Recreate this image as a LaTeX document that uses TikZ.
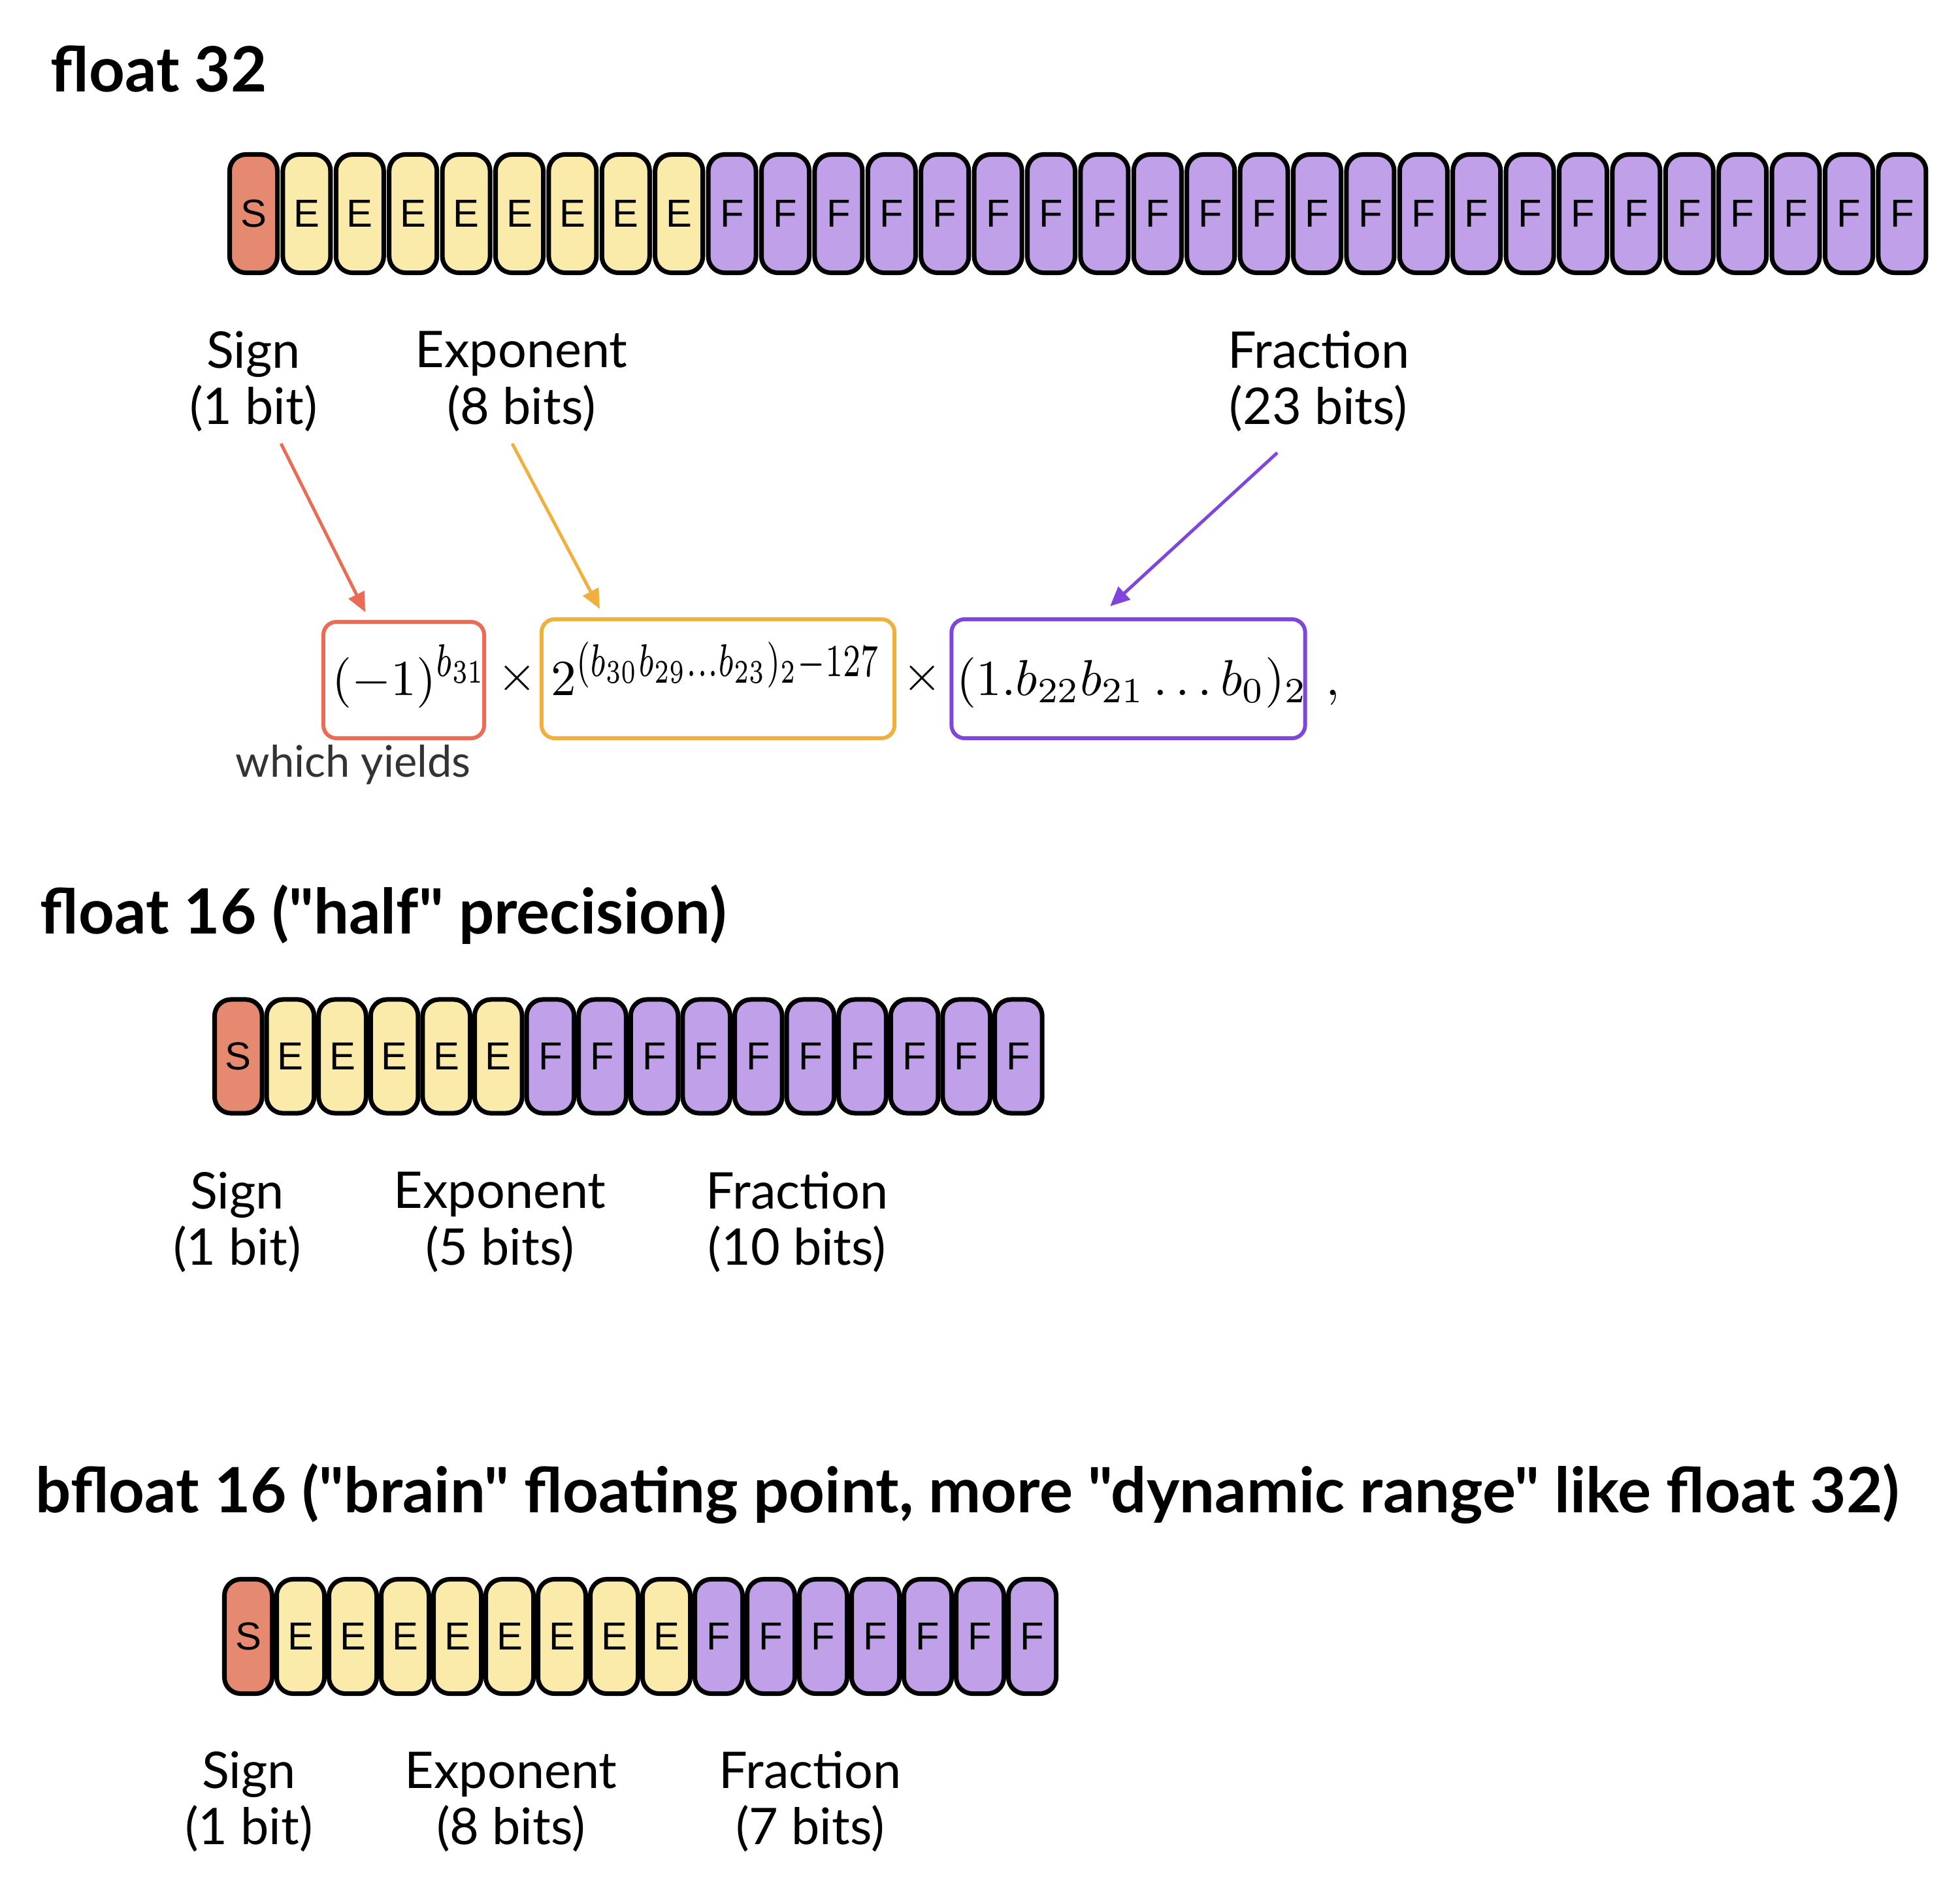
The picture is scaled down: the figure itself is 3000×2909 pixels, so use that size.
\documentclass[tikz,border=0pt]{standalone}
\usepackage[no-math]{fontspec}
\newfontfamily\lato{Lato}
\newfontfamily\arial{Liberation Sans}
\usetikzlibrary{arrows.meta}
\definecolor{sfill}{HTML}{E58970}
\definecolor{efill}{HTML}{FAEBAA}
\definecolor{ffill}{HTML}{C0A0E8}
\definecolor{cred}{HTML}{EB6B55}
\definecolor{corange}{HTML}{F0B03E}
\definecolor{cpurple}{HTML}{8046DB}
\begin{document}
\begin{tikzpicture}[x=0.01cm,y=-0.01cm,
  bit/.style={draw=black, line width=2pt, rounded corners=0.25cm, inner sep=0pt,
    font=\arial\fontsize{17}{17}\selectfont},
  sbit/.style={bit, fill=sfill},
  ebit/.style={bit, fill=efill},
  fbit/.style={bit, fill=ffill},
  ttl/.style={font=\lato\bfseries\fontsize{27.2}{30}\selectfont, anchor=base west, inner sep=0pt},
  lbl/.style={font=\lato\fontsize{22}{24.5}\selectfont, align=center, inner sep=0pt},
  mth/.style={font=\normalsize, scale=2.2, anchor=base west, inner sep=0pt},
  fbox/.style={line width=1.7pt, rounded corners=0.2cm, inner sep=0pt, fill=white},
  arr/.style={line width=1.4pt, -{Triangle[length=8.5pt,width=7.5pt]}}
]
\useasboundingbox (0,0) rectangle (3000,2909);

% ---------- float 32 ----------
\node[ttl] (t32) at (77,140) {float 32};
\tikzset{r32/.style={minimum width=0.73cm, minimum height=1.81cm}}
\node[sbit,r32] (a0) at (388,327) {S};
\foreach \i in {1,...,8} \node[ebit,r32] (a\i) at ({388+81.4*\i},327) {E};
\foreach \i in {9,...,31} \node[fbit,r32] (a\i) at ({388+81.4*\i},327) {F};

\node[lbl] (s32) at (388,584) {Sign\\(1 bit)};
\node[lbl] (e32) at (798,584) {Exponent\\(8 bits)};
\node[lbl] (f32) at (2018,584) {Fraction\\(23 bits)};

% formula boxes
\node[fbox, draw=cred, minimum width=2.46cm, minimum height=1.78cm] (bs) at (618,1041) {};
\node[fbox, draw=corange, minimum width=5.40cm, minimum height=1.82cm] (be) at (1099,1039) {};
\node[fbox, draw=cpurple, minimum width=5.41cm, minimum height=1.82cm] (bf) at (1727,1039) {};

\node[mth] (ms) at (507,1064) {$(-1)^{\scalebox{0.9}[1.3]{$\scriptstyle b_{31}$}}$};
\node[mth] (me) at (842,1064) {$2^{\scalebox{0.88}[1.3]{$\scriptstyle (b_{30}b_{29}\ldots b_{23})_2-127$}}$};
\node[mth] (mf) at (1463,1064) {$(1.b_{22}b_{21}\ldots b_{0})_2$};
\node[mth, anchor=center] (x1) at (792,1038) {$\times$};
\node[mth, anchor=center] (x2) at (1412,1038) {$\times$};
\node[mth] (cm) at (2028,1064) {$,$};

\node[font=\lato\fontsize{19}{21}\selectfont, text=black!80, anchor=west, inner sep=0pt] (wy) at (360,1171) {which yields};

% arrows
\coordinate (sA) at (430,679);
\coordinate (sB) at (559,937);
\coordinate (eA) at (784,679);
\coordinate (eB) at (918,932);
\coordinate (fA) at (1955,693);
\coordinate (fB) at (1699,928);
\draw[arr, cred] (sA) -- (sB);
\draw[arr, corange] (eA) -- (eB);
\draw[arr, cpurple] (fA) -- (fB);

% ---------- float 16 ----------
\node[ttl] (t16) at (61,1429) {float 16 ("half" precision)};
\tikzset{r16/.style={minimum width=0.726cm, minimum height=1.74cm}}
\node[sbit,r16] (h0) at (364.8,1617) {S};
\foreach \i in {1,...,5} \node[ebit,r16] (h\i) at ({364.8+79.6*\i},1617) {E};
\foreach \i in {6,...,15} \node[fbit,r16] (h\i) at ({364.8+79.6*\i},1617) {F};

\node[lbl] (s16) at (363,1871) {Sign\\(1 bit)};
\node[lbl] (e16) at (765,1871) {Exponent\\(5 bits)};
\node[lbl] (f16) at (1220,1871) {Fraction\\(10 bits)};

% ---------- bfloat 16 ----------
\node[ttl] (tb16) at (54,2315) {bfloat 16 ("brain" floating point, more "dynamic range" like float 32)};
\tikzset{rb16/.style={minimum width=0.73cm, minimum height=1.75cm}}
\node[sbit,rb16] (b0) at (380,2505) {S};
\foreach \i in {1,...,8} \node[ebit,rb16] (b\i) at ({380+80*\i},2505) {E};
\foreach \i in {9,...,15} \node[fbit,rb16] (b\i) at ({380+80*\i},2505) {F};

\node[lbl] (sb16) at (381,2758) {Sign\\(1 bit)};
\node[lbl] (eb16) at (782,2758) {Exponent\\(8 bits)};
\node[lbl] (fb16) at (1240,2758) {Fraction\\(7 bits)};
\end{tikzpicture}
\end{document}
